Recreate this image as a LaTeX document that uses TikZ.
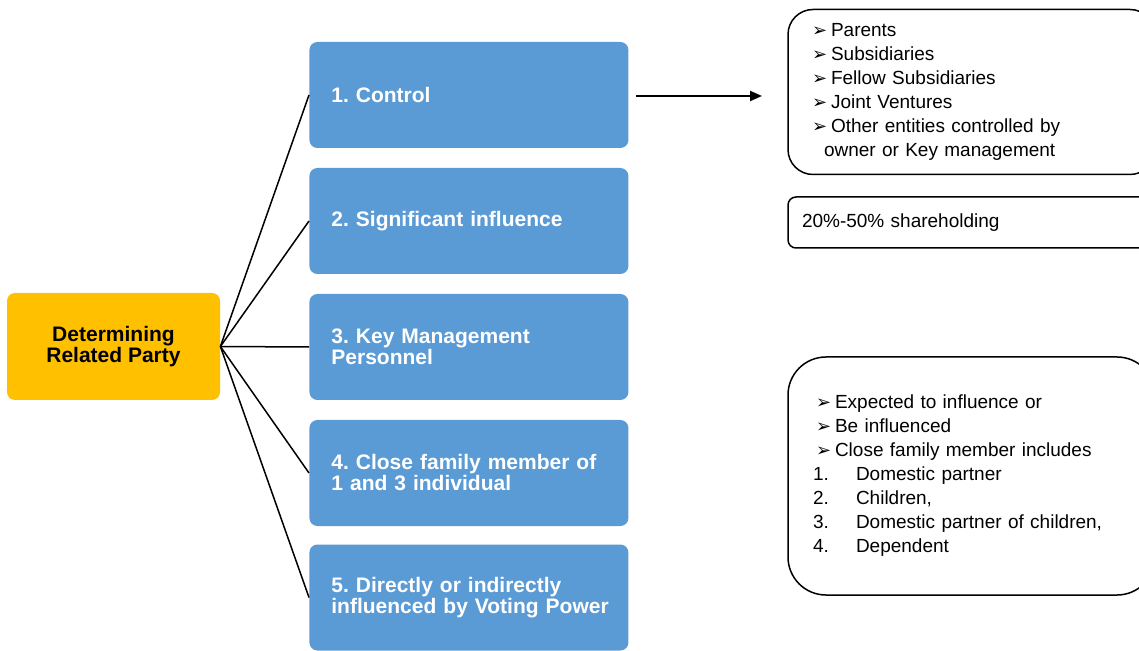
\documentclass[tikz,border=0pt]{standalone}
\usepackage{fontspec}
\setmainfont{Liberation Sans}
\newfontfamily\dejavu{DejaVu Sans}
\usetikzlibrary{arrows.meta}
\definecolor{gold}{HTML}{FFC000}
\definecolor{steel}{HTML}{5B9BD5}
\newcommand{\pointer}{\makebox[9.5pt][l]{\dejavu\fontsize{9}{9}\selectfont ➢}}
\newcommand{\numitem}[1]{\hspace*{-1.5pt}\makebox[21.5pt][l]{#1}}
\frenchspacing

\begin{document}
\begin{tikzpicture}[x=0.5pt, y=-0.5pt,
    rootbox/.style={fill=gold, rounded corners=4pt, minimum width=106.5pt,
        minimum height=53.5pt, align=center, font=\bfseries\fontsize{10.5}{10.5}\selectfont},
    kindbox/.style={fill=steel, text=white, rounded corners=4pt, minimum width=159.5pt,
        minimum height=53pt, inner xsep=11pt, text width=137.5pt, align=left,
        font=\bfseries\fontsize{10.5}{10.5}\selectfont},
    notebox/.style={draw, line width=0.75pt, minimum width=183.5pt, align=left,
        font=\fontsize{9.5}{12}\selectfont},
    link/.style={line width=0.75pt}
    ]
    \clip (0,0) rectangle (1139,651);

    \node[rootbox] (root) at (113.5, 346.5) {Determining\\Related Party};

    \node[kindbox, anchor=west] (ctrl) at (309, 95) {1. Control};
    \node[kindbox, anchor=west] (sig)  at (309, 221) {2. Significant influence};
    \node[kindbox, anchor=west] (kmp)  at (309, 347) {3. Key Management\\Personnel};
    \node[kindbox, anchor=west] (fam)  at (309, 473)
        {\mbox{4. Close family member of}\\1 and 3 individual};
    \node[kindbox, anchor=west] (vote) at (309, 597.5)
        {5. Directly or indirectly\\\mbox{influenced by Voting Power}};

    \node[notebox, rounded corners=12.5pt, minimum height=82.5pt, inner xsep=12pt,
          text width=159.5pt] (ctrlnote) at (971.5, 92)
        {\pointer Parents\\
         \pointer Subsidiaries\\
         \pointer Fellow Subsidiaries\\
         \pointer Joint Ventures\\
         \pointer Other entities controlled by\\
         \hspace*{6pt}owner or Key management};
    \node[notebox, rounded corners=4pt, minimum height=25.5pt, inner xsep=7pt,
          text width=169.5pt] (signote) at (971.5, 222.5) {20\%-50\% shareholding};
    \node[notebox, rounded corners=19pt, minimum height=119pt, inner xsep=14pt,
          text width=155.5pt] (famnote) at (971.5, 476)
        {\pointer Expected to influence or\\
         \pointer Be influenced\\
         \pointer Close family member includes\\
         \numitem{1.}Domestic partner\\
         \numitem{2.}Children,\\
         \numitem{3.}Domestic partner of children,\\
         \numitem{4.}Dependent};

    \coordinate (ctrltip) at (762, 96);

    \draw[link] (root.east) edge (ctrl.west)
          (root.east) edge (sig.west)
          (root.east) edge (kmp.west)
          (root.east) edge (fam.west)
          (root.east) edge (vote.west);
    \draw[line width=1pt, -{Triangle[length=6pt, width=5pt]}]
          ([xshift=3.5pt]ctrl.east |- ctrltip) -- (ctrltip);
\end{tikzpicture}
\end{document}
